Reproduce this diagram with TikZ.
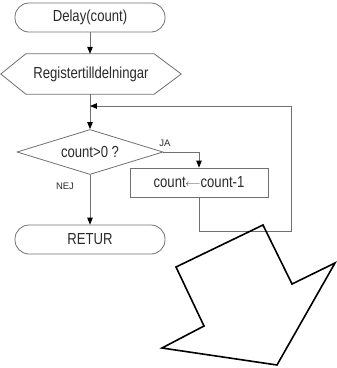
\documentclass[tikz,border=0pt]{standalone}
\usepackage{fontspec}
\setmainfont{Liberation Sans}
\newfontfamily\condf[FakeStretch=0.82]{Liberation Sans}
\usetikzlibrary{shapes.geometric,arrows.meta}
\definecolor{lin}{HTML}{707070}
\definecolor{txt}{HTML}{2A2A2A}
\tikzset{
  flow/.style={draw=lin, line width=0.8pt},
  term/.style={flow, rectangle, rounded corners=14pt, minimum width=150pt, minimum height=29pt, inner sep=0pt,
     font=\condf\fontsize{16}{18}\selectfont, text=txt},
  procbox/.style={flow, rectangle, minimum width=138pt, minimum height=29pt, inner sep=0pt,
     font=\condf\fontsize{16}{18}\selectfont, text=txt},
  decis/.style={flow, diamond, aspect=3.2, minimum width=146pt, minimum height=45pt, inner sep=0pt,
     font=\condf\fontsize{16}{18}\selectfont, text=txt},
  prep/.style={rectangle, minimum width=180pt, minimum height=40pt, inner sep=0pt,
     font=\condf\fontsize{16}{18}\selectfont, text=txt},
  lab/.style={font=\fontsize{9.5}{11}\selectfont, text=txt, inner sep=0pt},
  conn/.style={flow, -{Triangle[length=7pt,width=5.5pt,color=black]}},
}
\begin{document}
\begin{tikzpicture}[x=1pt,y=-1pt]
\useasboundingbox (0,0) rectangle (337,368);
\node[term] (start) at (90,17.5) {Delay(count)};
\node[prep] (reg) at (91,74) {Registertilldelningar};
\draw[flow] ([xshift=25pt]reg.north west) -- ([xshift=-27pt]reg.north east) -- (reg.east)
  -- ([xshift=-27pt]reg.south east) -- ([xshift=25pt]reg.south west) -- (reg.west) -- cycle;
\node[decis] (dec) at (90,152) {count>0 ?};
\node[procbox] (box) at (199,182.5) {count\raisebox{0.15ex}{\fontsize{9}{9}\selectfont$\longleftarrow$}count-1};
\node[term] (ret) at (90,239.5) {RETUR};
\node[lab] (ja) at (165,143) {JA};
\node[lab] (nej) at (65,186) {NEJ};
\coordinate (join) at (90,106);
\coordinate (corner) at (291,231);
\draw[conn] (start.south) -- ([xshift=-1pt]reg.north);
\draw[conn] ([xshift=-1pt]reg.south) -- (dec.north);
\draw[conn] (dec.east) -| (box.north);
\draw[conn] (dec.south) -- (ret.north);
\draw[conn] (box.south) |- (corner) |- (join);
\draw[black, line width=1.6pt, line join=miter]
  (263,225) -- (292,284) -- (335,263) -- (277,365) -- (162,348) -- (204,326) -- (176,267) -- cycle;
\end{tikzpicture}
\end{document}
